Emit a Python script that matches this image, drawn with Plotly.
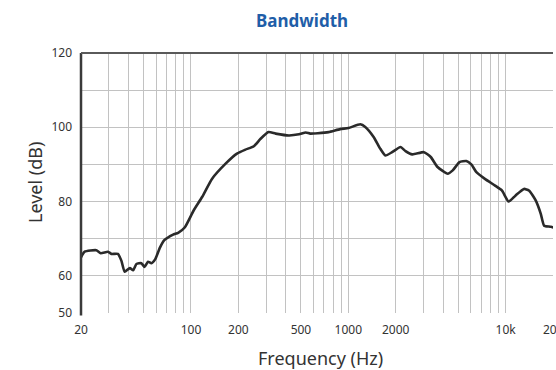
import plotly.graph_objects as go

# frequency response (Hz, dB)
freq_hz = [20, 21.1, 25, 26.7, 29.7, 31.2, 34.3, 36.1, 37.9, 40.9, 42.9, 45, 48.4,
           50.7, 53.3, 56, 59.3, 63.5, 67.7, 77, 82.9, 91.5, 104, 118, 136, 166,
           196, 222, 251, 277, 311, 345, 419, 486, 537, 573, 640, 749, 888, 1003,
           1192, 1282, 1449, 1599, 1721, 1899, 2146, 2311, 2550, 3027, 3343, 3693,
           4285, 4612, 5090, 5626, 6054, 6521, 7383, 8571, 9464, 10450, 11540,
           13070, 14070, 15530, 16730, 17580, 19400, 21420]
level_db = [65, 66.5, 66.9, 66.1, 66.5, 65.9, 65.9, 64.1, 61.1, 62.1, 61.5, 63.2, 63.4,
            62.4, 63.8, 63.4, 64.5, 67.6, 69.6, 71.1, 71.6, 73.1, 77.6, 81.3, 86.1, 90.2,
            92.9, 94.0, 94.9, 96.9, 98.7, 98.3, 97.8, 98.1, 98.6, 98.3, 98.4, 98.7, 99.5, 99.8,
            100.8, 100.1, 97.4, 94.2, 92.4, 93.3, 94.7, 93.6, 92.7, 93.3, 92.0, 89.3,
            87.5, 88.4, 90.6, 90.9, 90.0, 87.9, 86.1, 84.3, 83.0, 80.0, 81.6,
            83.4, 83.0, 80.3, 76.7, 73.5, 73.2, 72.6]

# axis ticks / gridlines
x_grid = [20, 30, 40, 50, 60, 70, 80, 90, 100, 200, 300, 400, 500, 600, 700, 800, 900,
          1000, 2000, 3000, 4000, 5000, 6000, 7000, 8000, 9000, 10000, 20000]
x_labels = {20: "20", 100: "100", 200: "200", 500: "500", 1000: "1000",
            2000: "2000", 10000: "10k", 20000: "20k"}
y_grid = [50, 60, 70, 80, 90, 100, 110, 120]
y_labels = {50: "50", 60: "60", 80: "80", 100: "100", 120: "120"}

font_name = "Noto Sans"
text_col = "#333333"
grid_col = "#c2c2c2"

fig = go.Figure(go.Scatter(
    x=freq_hz, y=level_db, mode="lines",
    line=dict(color="#2a2a2a", width=2.6, shape="spline", smoothing=0.5),
    hoverinfo="x+y",
))

fig.update_layout(
    width=556, height=370,
    margin=dict(l=81, r=3, t=53, b=57),
    paper_bgcolor="white", plot_bgcolor="white",
    showlegend=False,
    font=dict(family=font_name, color=text_col, size=12),
    xaxis=dict(
        type="log", range=[1.30103, 4.3012], automargin=False,
        tickvals=x_grid, ticktext=[x_labels.get(v, "") for v in x_grid],
        showgrid=True, gridcolor=grid_col, gridwidth=1,
        zeroline=False, showline=False, ticks="", ticklabelstandoff=8,
        ticklabeloverflow="allow",
        tickfont=dict(size=12, color=text_col),
    ),
    yaxis=dict(
        range=[50, 120], automargin=False,
        tickvals=y_grid, ticktext=[y_labels.get(v, "") for v in y_grid],
        showgrid=True, gridcolor=grid_col, gridwidth=1,
        zeroline=False, showline=False, ticks="", ticklabelstandoff=8,
        tickfont=dict(size=12, color=text_col),
    ),
    shapes=[
        # heavy frame on left and top like the original graph paper
        dict(type="line", xref="paper", yref="paper", x0=0, x1=0, y0=-0.01, y1=1,
             line=dict(color="#3a3a3a", width=2.5)),
        dict(type="line", xref="paper", yref="paper", x0=0, x1=1, y0=1, y1=1,
             line=dict(color="#5a5a5a", width=2)),
    ],
    annotations=[
        dict(text="<b>Bandwidth</b>", xref="paper", yref="paper", x=0.468, y=1.0,
             yshift=33, showarrow=False, xanchor="center", yanchor="middle",
             font=dict(family=font_name, size=17, color="#1f5ea8")),
        dict(text="Frequency (Hz)", xref="paper", yref="paper", x=0.507, y=0,
             yshift=-45, showarrow=False, xanchor="center", yanchor="middle",
             font=dict(family=font_name, size=18, color=text_col)),
        dict(text="Level (dB)", xref="paper", yref="paper", x=0, y=0.5,
             xshift=-46, yshift=0, textangle=-90, showarrow=False,
             xanchor="center", yanchor="middle",
             font=dict(family=font_name, size=18, color=text_col)),
    ],
)

# drop the browser's default body margin so the figure fills the window
fig.write_html(
    "out.html",
    config={"displayModeBar": False},
    post_script="document.body.style.margin='0';"
                "document.documentElement.style.overflow='hidden';",
)
